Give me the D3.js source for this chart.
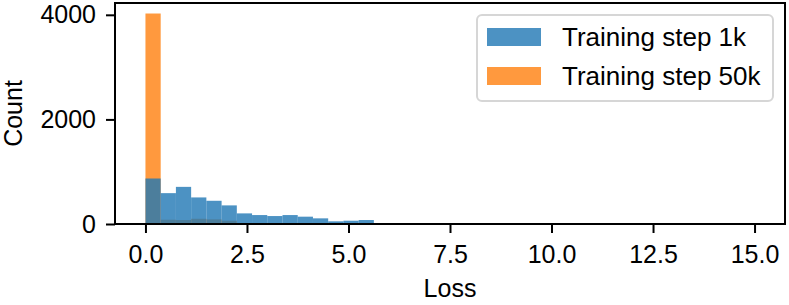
<!DOCTYPE html>
<html>
<head>
<meta charset="utf-8">
<script src="https://cdn.jsdelivr.net/npm/d3@7"></script>
<style>
  html, body { margin: 0; padding: 0; background: #fff; }
  svg { display: block; }
  text { font-family: "Liberation Sans", Arial, Helvetica, sans-serif; fill: #000; }
</style>
</head>
<body>
<svg id="svg" width="789" height="305"></svg>
<script>
// histogram bins: width 0.375, starting at 0
const binWidth = 0.375;
const counts1k = [870, 590, 710, 508, 444, 356, 203, 171, 152, 171, 140, 108, 51, 63, 76];
const counts50k = [4025, 82, 76, 100, 89, 63];
const seriesNames = ["Training step 1k", "Training step 50k"];
const seriesColors = ["#1f77b4", "#ff7f0e"];
const xTicks = [0, 2.5, 5, 7.5, 10, 12.5, 15];
const yTicks = [0, 2000, 4000];

const width = 789, height = 305;
const plot = {left: 115, right: 785, top: 3, bottom: 224};
const fontSize = 25;

const svg = d3.select("#svg");

const x = d3.scaleLinear().domain([-0.75, 15.75]).range([plot.left, plot.right]);
const y = d3.scaleLinear().domain([0, 4226]).range([plot.bottom, plot.top]);

const toBins = counts => counts.map((c, i) => ({x0: i * binWidth, x1: (i + 1) * binWidth, count: c}));

// orange drawn underneath, blue on top (as in the reference)
const drawHist = (counts, color, cls) => {
    svg.append("g")
        .selectAll("rect." + cls)
        .data(toBins(counts))
        .enter()
        .append("rect")
        .attr("class", cls)
        .attr("x", d => x(d.x0))
        .attr("width", d => x(d.x1) - x(d.x0))
        .attr("y", d => y(d.count))
        .attr("height", d => y(0) - y(d.count))
        .attr("fill", color)
        .attr("fill-opacity", 0.8);
};

drawHist(counts50k, seriesColors[1], "bar50k");
drawHist(counts1k, seriesColors[0], "bar1k");

// frame
svg.append("rect")
    .attr("x", plot.left)
    .attr("y", plot.top)
    .attr("width", plot.right - plot.left)
    .attr("height", plot.bottom - plot.top)
    .attr("fill", "none")
    .attr("stroke", "#000")
    .attr("stroke-width", 2);

// axes
const xAxis = svg.append("g")
    .attr("transform", `translate(0,${plot.bottom})`)
    .call(d3.axisBottom(x).tickValues(xTicks).tickFormat(d3.format(".1f")).tickSize(9).tickPadding(12));
const yAxis = svg.append("g")
    .attr("transform", `translate(${plot.left},0)`)
    .call(d3.axisLeft(y).tickValues(yTicks).tickFormat(d3.format("d")).tickSize(9).tickPadding(10));

[xAxis, yAxis].forEach(g => {
    g.select(".domain").remove();
    g.selectAll(".tick line").attr("stroke", "#000").attr("stroke-width", 2);
    g.selectAll(".tick text")
        .attr("font-size", fontSize)
        .attr("font-family", "'Liberation Sans', Arial, Helvetica, sans-serif")
        .attr("fill", "#000");
});

// axis labels
svg.append("text")
    .attr("x", (plot.left + plot.right) / 2)
    .attr("y", 297)
    .attr("text-anchor", "middle")
    .attr("font-size", fontSize)
    .text("Loss");

svg.append("text")
    .attr("transform", `translate(22,${(plot.top + plot.bottom) / 2}) rotate(-90)`)
    .attr("text-anchor", "middle")
    .attr("font-size", fontSize)
    .text("Count");

// legend
const legend = svg.append("g").attr("transform", "translate(477,15)");
legend.append("rect")
    .attr("width", 296)
    .attr("height", 86)
    .attr("rx", 5)
    .attr("fill", "#fff")
    .attr("fill-opacity", 0.8)
    .attr("stroke", "#d6d6d6")
    .attr("stroke-width", 2);

const items = legend.selectAll("g.item")
    .data(seriesNames)
    .enter()
    .append("g")
    .attr("class", "item")
    .attr("transform", (d, i) => `translate(10,${13 + i * 39})`);

items.append("rect")
    .attr("width", 54)
    .attr("height", 18)
    .attr("fill", (d, i) => seriesColors[i])
    .attr("fill-opacity", 0.8);

items.append("text")
    .attr("x", 75)
    .attr("y", 9)
    .attr("dy", "0.35em")
    .attr("font-size", 26)
    .text(d => d);
</script>
</body>
</html>
